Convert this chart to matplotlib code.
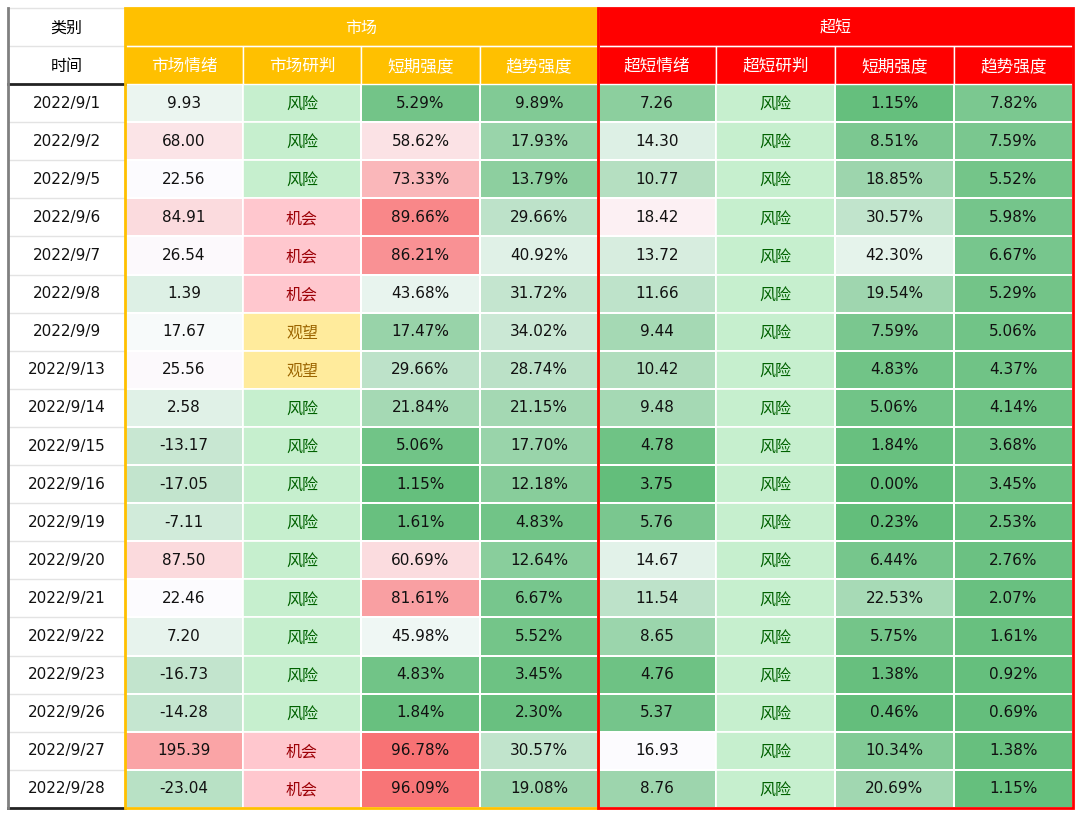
import numpy as np
import matplotlib
matplotlib.use('Agg')
import matplotlib.pyplot as plt
from matplotlib.colors import LinearSegmentedColormap, TwoSlopeNorm
from matplotlib.patches import Rectangle

plt.rcParams['font.family'] = ['Noto Sans CJK SC', 'DejaVu Sans']

# table data
dates = ['2022/9/1', '2022/9/2', '2022/9/5', '2022/9/6', '2022/9/7', '2022/9/8', '2022/9/9',
         '2022/9/13', '2022/9/14', '2022/9/15', '2022/9/16', '2022/9/19', '2022/9/20',
         '2022/9/21', '2022/9/22', '2022/9/23', '2022/9/26', '2022/9/27', '2022/9/28']
mkt_mood = [9.93, 68.00, 22.56, 84.91, 26.54, 1.39, 17.67, 25.56, 2.58, -13.17, -17.05,
            -7.11, 87.50, 22.46, 7.20, -16.73, -14.28, 195.39, -23.04]
mkt_view = ['风险', '风险', '风险', '机会', '机会', '机会', '观望', '观望', '风险', '风险',
            '风险', '风险', '风险', '风险', '风险', '风险', '风险', '机会', '机会']
mkt_short = [5.29, 58.62, 73.33, 89.66, 86.21, 43.68, 17.47, 29.66, 21.84, 5.06, 1.15,
             1.61, 60.69, 81.61, 45.98, 4.83, 1.84, 96.78, 96.09]
mkt_trend = [9.89, 17.93, 13.79, 29.66, 40.92, 31.72, 34.02, 28.74, 21.15, 17.70, 12.18,
             4.83, 12.64, 6.67, 5.52, 3.45, 2.30, 30.57, 19.08]
ss_mood = [7.26, 14.30, 10.77, 18.42, 13.72, 11.66, 9.44, 10.42, 9.48, 4.78, 3.75, 5.76,
           14.67, 11.54, 8.65, 4.76, 5.37, 16.93, 8.76]
ss_view = ['风险'] * 19
ss_short = [1.15, 8.51, 18.85, 30.57, 42.30, 19.54, 7.59, 4.83, 5.06, 1.84, 0.00, 0.23,
            6.44, 22.53, 5.75, 1.38, 0.46, 10.34, 20.69]
ss_trend = [7.82, 7.59, 5.52, 5.98, 6.67, 5.29, 5.06, 4.37, 4.14, 3.68, 3.45, 2.53, 2.76,
            2.07, 1.61, 0.92, 0.69, 1.38, 1.15]

groups = ['市场', '超短']
group_colors = ['#FFC000', '#FF0000']
col_names = ['市场情绪', '市场研判', '短期强度', '趋势强度',
             '超短情绪', '超短研判', '短期强度', '趋势强度']

# layout (pixels)
col_edges = [8, 125, 243, 361, 480, 598, 716, 835, 954, 1073]
top, hdr1, hdr2, bottom = 8, 46, 84, 808
n = len(dates)
row_edges = np.linspace(hdr2, bottom, n + 1)
row_mid = (row_edges[:-1] + row_edges[1:]) / 2

cmap = LinearSegmentedColormap.from_list('gwr', ['#63BE7B', '#FCFCFF', '#F8696B'])
view_style = {'风险': ('#C6EFCE', '#006100'),
              '机会': ('#FFC7CE', '#9C0006'),
              '观望': ('#FFEB9C', '#9C6500')}

# (values, kind, norm)
columns = [
    (mkt_mood, 'mood', TwoSlopeNorm(vmin=-79, vcenter=21, vmax=311)),
    (mkt_view, 'view', None),
    (mkt_short, 'pct', TwoSlopeNorm(vmin=0, vcenter=50, vmax=100)),
    (mkt_trend, 'pct', TwoSlopeNorm(vmin=0, vcenter=50, vmax=100)),
    (ss_mood, 'mood', TwoSlopeNorm(vmin=3.75, vcenter=16.9, vmax=36)),
    (ss_view, 'view', None),
    (ss_short, 'pct', TwoSlopeNorm(vmin=0, vcenter=50, vmax=100)),
    (ss_trend, 'pct', TwoSlopeNorm(vmin=0, vcenter=50, vmax=100)),
]

fig = plt.figure(figsize=(10.8, 8.16), dpi=100)
ax = fig.add_axes([0, 0, 1, 1])
ax.set_xlim(0, 1080)
ax.set_ylim(816, 0)
ax.axis('off')

fs = 11.5
nfs = 11
num_font = ['DejaVu Sans']
dy = 1.5  # CJK glyphs sit a bit high

# date column
xd = (col_edges[0] + col_edges[1]) / 2
ax.text(xd, (top + hdr1) / 2 + dy, '类别', ha='center', va='center', fontsize=fs)
ax.text(xd, (hdr1 + hdr2) / 2 + dy, '时间', ha='center', va='center', fontsize=fs)
for i, d in enumerate(dates):
    ax.text(xd, row_mid[i], d, ha='center', va='center', fontsize=nfs,
            family=num_font, color='#111111')
for y in list(row_edges[1:-1]) + [top, hdr1]:
    ax.plot([col_edges[0], col_edges[1]], [y, y], color='#E3E3E3', lw=1)
ax.plot([col_edges[0], col_edges[1]], [hdr2, hdr2], color='#222222', lw=2)
ax.plot([col_edges[0], col_edges[1]], [bottom, bottom], color='#222222', lw=2)
ax.plot([col_edges[0], col_edges[0]], [top, bottom], color='#808080', lw=2)

# body cells
for c, (vals, kind, norm) in enumerate(columns):
    x0, x1 = col_edges[c + 1], col_edges[c + 2]
    xm = (x0 + x1) / 2
    if kind == 'view':
        for i, v in enumerate(vals):
            fc, tc = view_style[v]
            ax.add_patch(Rectangle((x0, row_edges[i]), x1 - x0, row_edges[i + 1] - row_edges[i],
                                   facecolor=fc, edgecolor='white', lw=1.2))
            ax.text(xm, row_mid[i] + dy, v, ha='center', va='center', fontsize=fs, color=tc)
    else:
        arr = np.array(vals, dtype=float)[:, None]
        ax.pcolormesh([x0, x1], row_edges, arr, cmap=cmap, norm=norm,
                      edgecolor='white', linewidth=1.2)
        fmt = '{:.2f}' if kind == 'mood' else '{:.2f}%'
        for i, v in enumerate(vals):
            ax.text(xm, row_mid[i], fmt.format(v), ha='center', va='center',
                    fontsize=nfs, family=num_font, color='#111111')

# headers
for g in range(2):
    gx0, gx1 = col_edges[1 + 4 * g], col_edges[5 + 4 * g]
    ax.add_patch(Rectangle((gx0, top), gx1 - gx0, hdr1 - top, facecolor=group_colors[g],
                           edgecolor='none'))
    ax.text((gx0 + gx1) / 2, (top + hdr1) / 2 + dy, groups[g], ha='center', va='center',
            fontsize=fs, color='white')
    ax.plot([gx0 + 2, gx1 - 2], [hdr1, hdr1], color='white', lw=1, alpha=0.7)
    for k in range(4):
        x0, x1 = col_edges[1 + 4 * g + k], col_edges[2 + 4 * g + k]
        ax.add_patch(Rectangle((x0, hdr1), x1 - x0, hdr2 - hdr1, facecolor=group_colors[g],
                               edgecolor='white', lw=1))
        ax.text((x0 + x1) / 2, (hdr1 + hdr2) / 2 + dy, col_names[4 * g + k], ha='center',
                va='center', fontsize=fs + 0.5, color='white')
    ax.add_patch(Rectangle((gx0, top), gx1 - gx0, bottom - top, facecolor='none',
                           edgecolor=group_colors[g], lw=2, zorder=5))

fig.savefig('out.png', dpi=100)
